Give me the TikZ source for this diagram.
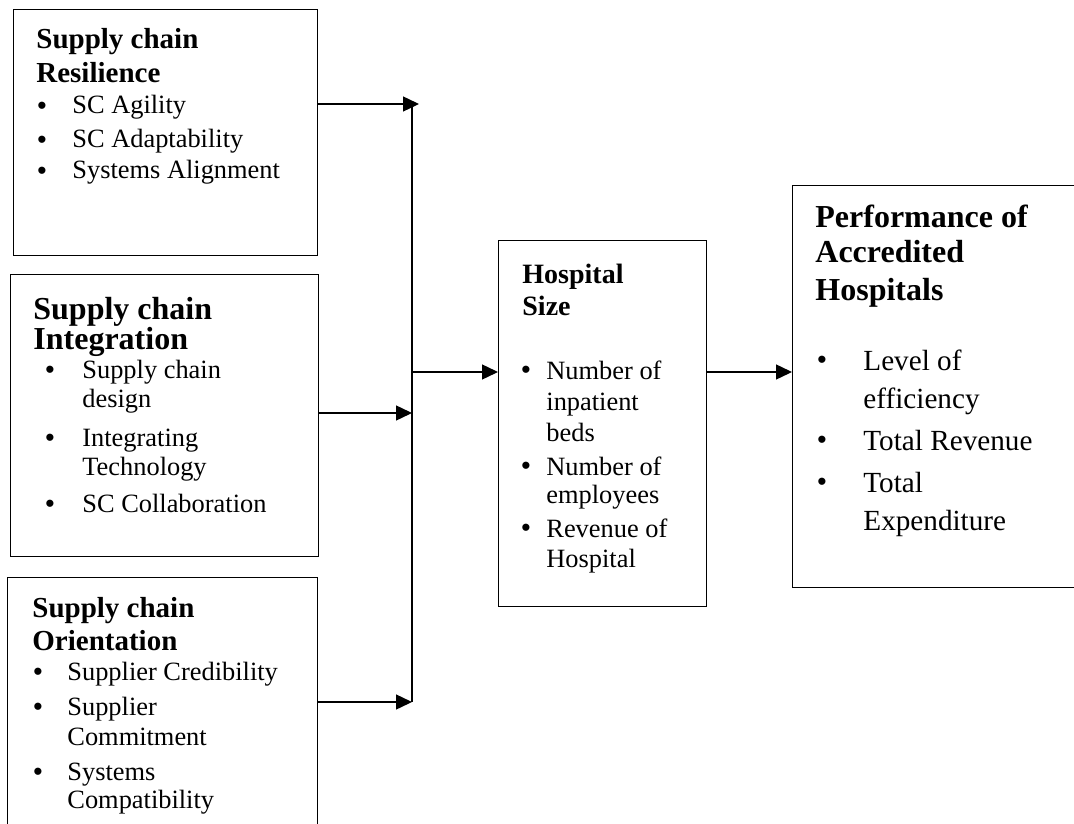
\documentclass[tikz,border=0pt]{standalone}
\usepackage{fontspec}
\setmainfont{Liberation Serif}
\newfontfamily\bulletfont{Liberation Sans}
\usetikzlibrary{arrows.meta}

\tikzset{
  boxe/.style={draw, line width=0.7pt, rectangle, anchor=north west, inner sep=0pt},
  txt/.style={anchor=base west, inner sep=0pt},
  dot/.style={anchor=center, inner sep=0pt, font=\bulletfont\fontsize{13.2pt}{13.2pt}\selectfont},
  flow/.style={line width=0.7pt, -{Triangle[length=8pt,width=7.5pt]}},
}

\begin{document}
\begin{tikzpicture}[x=0.5pt, y=-0.5pt]%
\useasboundingbox (0,0) rectangle (1074,823);%
% boxes
\node[boxe, minimum width=152pt, minimum height=123pt] (res) at (13,9) {};%
\node[boxe, minimum width=154pt, minimum height=141pt] (integ) at (10,274) {};%
\node[boxe, minimum width=155pt, minimum height=142pt] (orient) at (7,577) {};%
\node[boxe, minimum width=104pt, minimum height=183pt] (size) at (498,240) {};%
\node[boxe, minimum width=154pt, minimum height=201pt] (perf) at (792,185) {};%
% supply chain resilience
\node[txt] (resA) at (36,49) {\fontsize{14.5pt}{14.5pt}\selectfont\bfseries Supply chain};%
\node[txt] (resB) at (36,83) {\fontsize{14.5pt}{14.5pt}\selectfont\bfseries Resilience};%
\node[dot] (resD1) at (42,108) {\textbullet};%
\node[txt] (res1) at (72,114) {\fontsize{13.2pt}{13.2pt}\selectfont SC Agility};%
\node[dot] (resD2) at (42,142) {\textbullet};%
\node[txt] (res2) at (72,148) {\fontsize{13.2pt}{13.2pt}\selectfont SC Adaptability};%
\node[dot] (resD3) at (42,173) {\textbullet};%
\node[txt] (res3) at (72,179) {\fontsize{13.2pt}{13.2pt}\selectfont Systems Alignment};%
% supply chain integration
\node[txt] (integA) at (33,320) {\fontsize{16pt}{16pt}\selectfont\bfseries Supply chain};%
\node[txt] (integB) at (33,349) {\fontsize{16pt}{16pt}\selectfont\bfseries Integration};%
\node[dot] (integD1) at (50,372) {\textbullet};%
\node[txt] (integ1) at (82,378) {\fontsize{13.2pt}{13.2pt}\selectfont Supply chain};%
\node[txt] (integ1b) at (82,407) {\fontsize{13.2pt}{13.2pt}\selectfont design};%
\node[dot] (integD2) at (50,440) {\textbullet};%
\node[txt] (integ2) at (82,446) {\fontsize{13.2pt}{13.2pt}\selectfont Integrating};%
\node[txt] (integ2b) at (82,475) {\fontsize{13.2pt}{13.2pt}\selectfont Technology};%
\node[dot] (integD3) at (50,506) {\textbullet};%
\node[txt] (integ3) at (82,512) {\fontsize{13.2pt}{13.2pt}\selectfont SC Collaboration};%
% supply chain orientation
\node[txt] (orientA) at (32,617) {\fontsize{14.5pt}{14.5pt}\selectfont\bfseries Supply chain};%
\node[txt] (orientB) at (32,650) {\fontsize{14.5pt}{14.5pt}\selectfont\bfseries Orientation};%
\node[dot] (orientD1) at (38,674) {\textbullet};%
\node[txt] (orient1) at (67,680) {\fontsize{13.2pt}{13.2pt}\selectfont Supplier Credibility};%
\node[dot] (orientD2) at (38,709) {\textbullet};%
\node[txt] (orient2) at (67,715) {\fontsize{13.2pt}{13.2pt}\selectfont Supplier};%
\node[txt] (orient2b) at (67,745) {\fontsize{13.2pt}{13.2pt}\selectfont Commitment};%
\node[dot] (orientD3) at (38,774) {\textbullet};%
\node[txt] (orient3) at (67,780) {\fontsize{13.2pt}{13.2pt}\selectfont Systems};%
\node[txt] (orient3b) at (67,808) {\fontsize{13.2pt}{13.2pt}\selectfont Compatibility};%
% hospital size
\node[txt] (sizeA) at (522,284) {\fontsize{14pt}{14pt}\selectfont\bfseries Hospital};%
\node[txt] (sizeB) at (522,315) {\fontsize{14pt}{14pt}\selectfont\bfseries Size};%
\node[dot] (sizeD1) at (526,372) {\textbullet};%
\node[txt] (size1) at (546,379) {\fontsize{13.2pt}{13.2pt}\selectfont Number of};%
\node[txt] (size1b) at (546,410) {\fontsize{13.2pt}{13.2pt}\selectfont inpatient};%
\node[txt] (size1c) at (546,441) {\fontsize{13.2pt}{13.2pt}\selectfont beds};%
\node[dot] (sizeD2) at (526,468) {\textbullet};%
\node[txt] (size2) at (546,475) {\fontsize{13.2pt}{13.2pt}\selectfont Number of};%
\node[txt] (size2b) at (546,503) {\fontsize{13.2pt}{13.2pt}\selectfont employees};%
\node[dot] (sizeD3) at (526,530) {\textbullet};%
\node[txt] (size3) at (546,537) {\fontsize{13.2pt}{13.2pt}\selectfont Revenue of};%
\node[txt] (size3b) at (546,567) {\fontsize{13.2pt}{13.2pt}\selectfont Hospital};%
% performance of accredited hospitals
\node[txt] (perfA) at (815,228) {\fontsize{16pt}{16pt}\selectfont\bfseries Performance of};%
\node[txt] (perfB) at (815,263) {\fontsize{16pt}{16pt}\selectfont\bfseries Accredited};%
\node[txt] (perfC) at (815,300) {\fontsize{16pt}{16pt}\selectfont\bfseries Hospitals};%
\node[dot] (perfD1) at (822,362) {\textbullet};%
\node[txt] (perf1) at (863,370) {\fontsize{14.6pt}{14.6pt}\selectfont Level of};%
\node[txt] (perf1b) at (863,408) {\fontsize{14.6pt}{14.6pt}\selectfont efficiency};%
\node[dot] (perfD2) at (822,442) {\textbullet};%
\node[txt] (perf2) at (863,450) {\fontsize{14.6pt}{14.6pt}\selectfont Total Revenue};%
\node[dot] (perfD3) at (822,484) {\textbullet};%
\node[txt] (perf3) at (863,492) {\fontsize{14.6pt}{14.6pt}\selectfont Total};%
\node[txt] (perf3b) at (863,530) {\fontsize{14.6pt}{14.6pt}\selectfont Expenditure};%
% connectors
\coordinate (bus top) at (412,104);%
\coordinate (bus out) at (412,372);%
\coordinate (bus mid) at (412,413);%
\coordinate (bus bot) at (412,702);%
\draw[line width=0.7pt] (bus top) -- (bus bot);%
\draw[flow, shorten >=-3.5pt] (res.east |- bus top) -- (bus top);%
\draw[flow] (integ.east |- bus mid) -- (bus mid);%
\draw[flow] (orient.east |- bus bot) -- (bus bot);%
\draw[flow] (bus out) -- (size.west |- bus out);%
\draw[flow] (size.east |- bus out) -- (perf.west |- bus out);%
\end{tikzpicture}
\end{document}
